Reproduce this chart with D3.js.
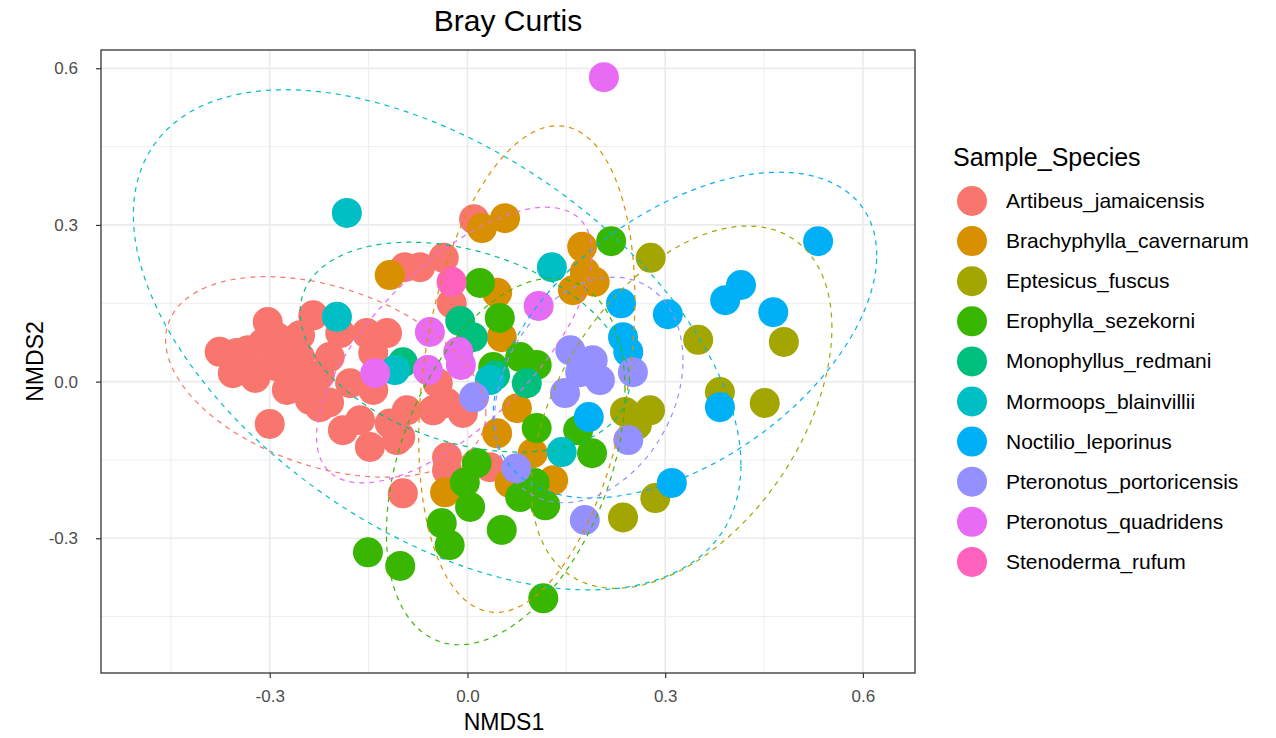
<!DOCTYPE html>
<html>
<head>
<meta charset="utf-8">
<script src="https://cdn.jsdelivr.net/npm/d3@7"></script>
<style>
body { margin: 0; background: #fff; }
text { font-family: "Liberation Sans", Arial, sans-serif; }
</style>
</head>
<body>
<div id="chart"></div>
<script>
var species = ["Artibeus_jamaicensis", "Brachyphylla_cavernarum", "Eptesicus_fuscus",
	"Erophylla_sezekorni", "Monophyllus_redmani", "Mormoops_blainvillii",
	"Noctilio_leporinus", "Pteronotus_portoricensis", "Pteronotus_quadridens", "Stenoderma_rufum"];
var colors = ["#F8766D", "#D89000", "#A3A500", "#39B600", "#00BF7D",
	"#00BFC4", "#00B0F6", "#9590FF", "#E76BF3", "#FF62BC"];

var xTicks = [-0.3, 0.0, 0.3, 0.6];
var yTicks = [-0.3, 0.0, 0.3, 0.6];

// NMDS scores per species, [NMDS1, NMDS2]
var artibeus = [[-0.300,-0.081],[-0.098,-0.214],[0.010,0.311],[-0.036,0.237],[-0.095,0.219],
	[-0.072,0.219],[-0.024,0.150],[-0.045,-0.003],[-0.303,0.114],[-0.234,0.127],[-0.376,0.057],
	[-0.350,0.055],[-0.356,0.016],[-0.330,0.028],[-0.310,0.074],[-0.289,0.085],[-0.280,0.047],
	[-0.254,0.047],[-0.274,-0.016],[-0.239,-0.035],[-0.193,0.093],[-0.209,0.047],[-0.153,0.093],
	[-0.122,0.093],[-0.143,0.055],[-0.178,-0.003],[-0.143,-0.016],[-0.189,-0.093],[-0.148,-0.125],
	[-0.107,-0.112],[-0.092,-0.055],[-0.118,-0.080],[-0.163,-0.074],[-0.052,-0.055],[-0.031,-0.041],
	[-0.007,-0.060],[-0.102,-0.106],[-0.031,-0.145],[-0.031,-0.170],[0.034,-0.164],[-0.224,-0.049],
	[-0.265,0.009],[-0.239,-0.003],[-0.333,0.060],[-0.254,0.089],[-0.322,0.007],[-0.224,0.012],
	[-0.210,-0.040],[-0.292,0.030]];
var brachyphylla = [[0.022,0.294],[0.057,0.313],[-0.118,0.204],[0.045,0.170],[0.052,0.085],
	[0.174,0.258],[0.178,0.210],[0.193,0.191],[0.160,0.175],[0.075,-0.051],[0.045,-0.099],
	[0.099,-0.137],[0.130,-0.189],[0.064,-0.194],[-0.034,-0.212]];
var eptesicus = [[0.278,0.237],[0.350,0.080],[0.480,0.076],[0.383,-0.020],[0.451,-0.041],
	[0.239,-0.058],[0.277,-0.055],[0.257,-0.083],[0.236,-0.260],[0.285,-0.223]];
var erophylla = [[0.218,0.269],[0.019,0.189],[0.049,0.122],[0.080,0.047],[0.039,0.028],
	[0.105,0.032],[0.105,-0.089],[0.168,-0.093],[0.189,-0.137],[0.014,-0.156],[-0.004,-0.193],
	[0.080,-0.221],[0.118,-0.237],[0.004,-0.240],[-0.039,-0.271],[-0.027,-0.313],[0.052,-0.284],
	[-0.102,-0.353],[-0.151,-0.327],[0.115,-0.415],[0.102,-0.194]];
var monophyllus = [[-0.011,0.116],[0.008,0.085],[-0.098,0.037],[0.090,-0.003],[0.042,0.012]];
var mormoops = [[-0.183,0.323],[-0.198,0.124],[0.128,0.219],[0.143,-0.135],[0.034,0.003],[-0.110,0.022]];
var noctilio = [[0.532,0.269],[0.415,0.185],[0.391,0.156],[0.464,0.133],[0.304,0.129],
	[0.233,0.150],[0.236,0.085],[0.244,0.057],[0.383,-0.049],[0.184,-0.068],[0.310,-0.194]];
var portoricensis = [[0.010,-0.030],[0.074,-0.166],[0.156,0.060],[0.190,0.041],[0.171,0.018],
	[0.201,0.003],[0.148,-0.022],[0.251,0.018],[0.244,-0.112],[0.178,-0.265]];
var quadridens = [[0.207,0.583],[0.108,0.145],[-0.057,0.095],[-0.014,0.057],[-0.010,0.032],
	[-0.060,0.022],[-0.140,0.016]];
var stenoderma = [[-0.024,0.191]];

var scores = [artibeus, brachyphylla, eptesicus, erophylla, monophyllus, mormoops,
	noctilio, portoricensis, quadridens, stenoderma];

// 95% ellipse per species: centre x, centre y, half width, half height, correlation
var ellipses = [[-0.215,0.009,0.243,0.192,-0.37],[0.090,0.024,0.164,0.466,0.284],
	[0.325,-0.049,0.228,0.347,0.44],[0.058,-0.153,0.181,0.351,0.39],
	[-0.004,0.066,0.250,0.201,-0.333],[-0.046,0.080,0.461,0.479,-0.5],
	[0.330,0.089,0.291,0.312,0.49],[0.184,-0.016,0.143,0.216,0.265],
	[-0.020,0.070,0.209,0.264,0.667],null];

var W = 1276, H = 738;
// panel edges (don't call one of these "top", that's window.top)
var pLeft = 101, pRight = 915, pTop = 50, pBottom = 673;

var svg = d3.select("#chart")
	.append("svg")
	.attr("width", W)
	.attr("height", H);

var x = d3.scaleLinear().domain([-0.556, 0.679]).range([pLeft, pRight]);
var y = d3.scaleLinear().domain([-0.558, 0.635]).range([pBottom, pTop]);

// minor grid sits halfway between the major breaks
var xMinor = [-0.45, -0.15, 0.15, 0.45];
var yMinor = [-0.45, -0.15, 0.15, 0.45];

var grid = svg.append("g");
grid.selectAll(".xminor").data(xMinor).enter().append("line")
	.attr("x1", function(d) { return x(d); }).attr("x2", function(d) { return x(d); })
	.attr("y1", pTop).attr("y2", pBottom)
	.style("stroke", "#EBEBEB").style("stroke-width", 0.9);
grid.selectAll(".yminor").data(yMinor).enter().append("line")
	.attr("y1", function(d) { return y(d); }).attr("y2", function(d) { return y(d); })
	.attr("x1", pLeft).attr("x2", pRight)
	.style("stroke", "#EBEBEB").style("stroke-width", 0.9);
grid.selectAll(".xmajor").data(xTicks).enter().append("line")
	.attr("x1", function(d) { return x(d); }).attr("x2", function(d) { return x(d); })
	.attr("y1", pTop).attr("y2", pBottom)
	.style("stroke", "#EBEBEB").style("stroke-width", 1.7);
grid.selectAll(".ymajor").data(yTicks).enter().append("line")
	.attr("y1", function(d) { return y(d); }).attr("y2", function(d) { return y(d); })
	.attr("x1", pLeft).attr("x2", pRight)
	.style("stroke", "#EBEBEB").style("stroke-width", 1.7);

// points, one group per species
var pts = svg.append("g");
scores.forEach(function(list, i) {
	pts.selectAll(".p" + i)
		.data(list)
		.enter().append("circle")
		.attr("class", "p" + i)
		.attr("cx", function(d) { return x(d[0]); })
		.attr("cy", function(d) { return y(d[1]); })
		.attr("r", 15)
		.style("fill", colors[i]);
});

// dashed ellipses drawn on top of the points
var line = d3.line()
	.x(function(d) { return x(d[0]); })
	.y(function(d) { return y(d[1]); });

ellipses.forEach(function(e, i) {
	if (!e) return;
	var path = [];
	for (var k = 0; k <= 120; k++) {
		var t = k / 120 * 2 * Math.PI;
		path.push([e[0] + e[2] * Math.cos(t),
			e[1] + e[3] * (e[4] * Math.cos(t) + Math.sqrt(1 - e[4] * e[4]) * Math.sin(t))]);
	}
	svg.append("path")
		.attr("d", line(path))
		.style("fill", "none")
		.style("stroke", colors[i])
		.style("stroke-width", 1.2)
		.style("stroke-dasharray", "5,5");
});

// panel border
svg.append("rect")
	.attr("x", pLeft).attr("y", pTop)
	.attr("width", pRight - pLeft).attr("height", pBottom - pTop)
	.style("fill", "none").style("stroke", "#333333").style("stroke-width", 1.3);

// axes, plain hyphen minus like R prints it
var fmt = function(d) { return d.toFixed(1); };
var xAxis = svg.append("g")
	.attr("transform", "translate(0," + pBottom + ")")
	.call(d3.axisBottom(x).tickValues(xTicks).tickSize(5).tickPadding(12).tickFormat(fmt));
var yAxis = svg.append("g")
	.attr("transform", "translate(" + pLeft + ",0)")
	.call(d3.axisLeft(y).tickValues(yTicks).tickSize(5).tickPadding(18).tickFormat(fmt));
[xAxis, yAxis].forEach(function(a) {
	a.select(".domain").remove();
	a.selectAll(".tick line").style("stroke", "#333333").style("stroke-width", 1.2);
	a.selectAll(".tick text").style("fill", "#4D4D4D").style("font-size", "17px")
		.style("font-family", "Liberation Sans, Arial, sans-serif");
});

// titles
svg.append("text").attr("x", (pLeft + pRight) / 2).attr("y", 31)
	.attr("text-anchor", "middle").style("font-size", "30px").text("Bray Curtis");
svg.append("text").attr("x", 504).attr("y", 730)
	.attr("text-anchor", "middle").style("font-size", "23px").text("NMDS1");
svg.append("text").attr("transform", "translate(43," + (pTop + pBottom) / 2 + ") rotate(-90)")
	.attr("text-anchor", "middle").style("font-size", "23px").text("NMDS2");

// legend
var legend = svg.append("g");
legend.append("text").attr("x", 953).attr("y", 166)
	.style("font-size", "25px").text("Sample_Species");
var items = legend.selectAll(".item")
	.data(species)
	.enter().append("g")
	.attr("class", "item")
	.attr("transform", function(d, i) { return "translate(972," + (201 + i * 40.1) + ")"; });
items.append("circle").attr("r", 15)
	.style("fill", function(d, i) { return colors[i]; });
items.append("text").attr("x", 34).attr("y", 7)
	.style("font-size", "21px").text(function(d) { return d; });
</script>
</body>
</html>
